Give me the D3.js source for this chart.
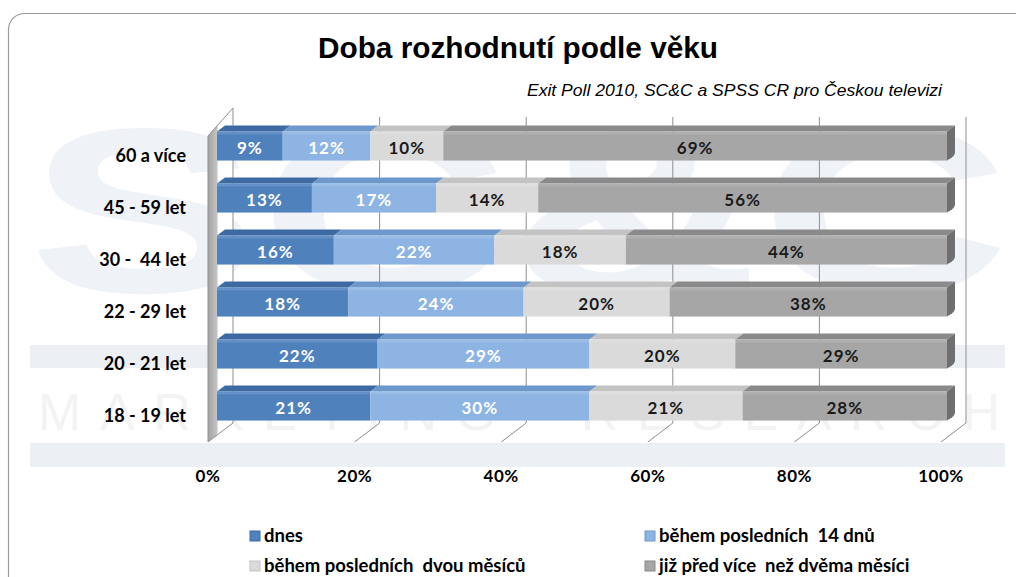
<!DOCTYPE html>
<html>
<head>
<meta charset="utf-8">
<script src="https://cdn.jsdelivr.net/npm/d3@7"></script>
<style>
  body { margin: 0; background: #fff; }
  svg { display: block; }
  text { font-family: Lato, "Open Sans", sans-serif; white-space: pre; }
</style>
</head>
<body>
<div id="chart"></div>
<script>
var W = 1016, H = 577;

// data (shares of voters per age group)
var categories = ['60 a více', '45 - 59 let', '30 -  44 let', '22 - 29 let', '20 - 21 let', '18 - 19 let'];
var seriesNames = ['dnes', 'během posledních  14 dnů', 'během posledních  dvou měsíců', 'již před více  než dvěma měsíci'];
var dnes     = [9, 13, 16, 18, 22, 21];
var days14   = [12, 17, 22, 24, 29, 30];
var months2  = [10, 14, 18, 20, 20, 21];
var earlier  = [69, 56, 44, 38, 29, 28];
var tickValues = [0, 20, 40, 60, 80, 100];

var front   = ['#4f81bd', '#8db4e3', '#dadada', '#a6a6a6'];
var topCol  = ['#3d6aa2', '#6e97cc', '#c3c3c3', '#8a8a8a'];
var txtCol  = ['#fff', '#fff', '#1a1a1a', '#1a1a1a'];

var rows = categories.map(function (c, i) {
  return { cat: c, vals: [dnes[i], days14[i], months2[i], earlier[i]] };
});

var svg = d3.select('#chart').append('svg').attr('width', W).attr('height', H);

// frame
svg.append('rect').attr('x', 8.5).attr('y', 13.5).attr('width', 1060).attr('height', 620)
  .attr('rx', 16).attr('fill', '#fff').attr('stroke', '#9a9a9a').attr('stroke-width', 1.2);

// faint logo watermark behind the plot
var wm = svg.append('g');
wm.append('text').attr('x', 28).attr('y', 292).attr('font-size', 235).attr('font-weight', 'bold')
  .attr('textLength', 982).attr('lengthAdjust', 'spacingAndGlyphs')
  .attr('fill', '#eff2f6').style('font-family', 'Liberation Sans, Arial, sans-serif').text('SC&C');
wm.append('rect').attr('x', 30).attr('y', 345).attr('width', 975).attr('height', 23).attr('fill', '#ecf0f4');
wm.append('rect').attr('x', 30).attr('y', 443).attr('width', 975).attr('height', 24).attr('fill', '#ecf0f4');
wm.append('text').attr('x', 38).attr('y', 430).attr('font-size', 52)
  .attr('textLength', 962).attr('lengthAdjust', 'spacing')
  .attr('fill', '#f3f3f3').style('font-family', 'Liberation Sans, Arial, sans-serif').text('MARKETING  RESEARCH');

// title
svg.append('text').attr('x', 518).attr('y', 58).attr('text-anchor', 'middle')
  .attr('font-size', 30).attr('font-weight', 'bold').attr('fill', '#000')
  .attr('textLength', 400).attr('lengthAdjust', 'spacingAndGlyphs')
  .style('font-family', 'Liberation Sans, Arial, sans-serif')
  .text('Doba rozhodnutí podle věku');
svg.append('text').attr('x', 942).attr('y', 96).attr('text-anchor', 'end')
  .attr('font-size', 17).attr('font-style', 'italic').attr('fill', '#000')
  .attr('textLength', 415).attr('lengthAdjust', 'spacingAndGlyphs')
  .style('font-family', 'Liberation Sans, Arial, sans-serif')
  .text('Exit Poll 2010, SC&C a SPSS CR pro Českou televizi');

// 3d layout: back wall, floor front edge, bar front face
var xBack  = d3.scaleLinear().domain([0, 100]).range([233, 966]);
var xFloor = d3.scaleLinear().domain([0, 100]).range([208, 941]);
var xBar   = d3.scaleLinear().domain([0, 100]).range([217, 947]);
var backTop = 117, backBot = 423, floorY = 442;
var dx = 8, dy = -6;

var y = d3.scaleBand().domain(categories).range([120, 432]).paddingInner(0.44).paddingOuter(0.22);

// back wall gridlines + floor lines
var grid = svg.append('g').attr('stroke', '#8f8f8f').attr('stroke-width', 1);
tickValues.slice(1).forEach(function (t) {
  grid.append('line').attr('x1', xBack(t)).attr('x2', xBack(t)).attr('y1', backTop).attr('y2', backBot);
  grid.append('line').attr('x1', xBack(t)).attr('x2', xFloor(t)).attr('y1', backBot).attr('y2', floorY);
});

// left wall
var grad = svg.append('defs').append('linearGradient').attr('id', 'wall')
  .attr('x1', 0).attr('x2', 1).attr('y1', 0).attr('y2', 0);
grad.append('stop').attr('offset', 0).attr('stop-color', '#a3a3a3');
grad.append('stop').attr('offset', 0.35).attr('stop-color', '#c4c4c4');
grad.append('stop').attr('offset', 0.42).attr('stop-color', '#ffffff');
grad.append('stop').attr('offset', 1).attr('stop-color', '#ffffff');
svg.append('path')
  .attr('d', 'M' + xFloor(0) + ',' + floorY + 'L' + xFloor(0) + ',' + (backTop + 19) +
             'L' + xBack(0) + ',' + (backTop - 9) + 'L' + xBack(0) + ',' + backBot + 'Z')
  .attr('fill', 'url(#wall)').attr('stroke', '#8f8f8f').attr('stroke-width', 1);

// bars
var barG = svg.selectAll('g.row').data(rows).enter().append('g').attr('class', 'row');

barG.each(function (d) {
  var g = d3.select(this);
  var y0 = y(d.cat), h = y.bandwidth();
  var acc = 0;
  var segs = d.vals.map(function (v, k) {
    var s = { k: k, v: v, a: acc, b: acc + v };
    acc += v;
    return s;
  });
  segs.forEach(function (s) {
    var x0 = xBar(s.a), x1 = xBar(s.b);
    g.append('path')
      .attr('d', 'M' + x0 + ',' + y0 + 'L' + (x0 + dx) + ',' + (y0 + dy) + 'L' + (x1 + dx) + ',' + (y0 + dy) + 'L' + x1 + ',' + y0 + 'Z')
      .attr('fill', topCol[s.k]);
    g.append('rect').attr('x', x0).attr('y', y0).attr('width', x1 - x0).attr('height', h)
      .attr('fill', front[s.k]);
    g.append('rect').attr('x', x0).attr('y', y0).attr('width', x1 - x0).attr('height', 3)
      .attr('fill', '#fff').attr('opacity', 0.12);
  });
  var xe = xBar(100);
  g.append('path')
    .attr('d', 'M' + xe + ',' + y0 + 'L' + (xe + dx) + ',' + (y0 + dy) + 'L' + (xe + dx) + ',' + (y0 + h + dy - 2) +
               'Q' + (xe + dx) + ',' + (y0 + h + dy + 1) + ' ' + (xe + dx - 3) + ',' + (y0 + h + dy + 3) +
               'L' + xe + ',' + (y0 + h) + 'Z')
    .attr('fill', '#6f6f6f');
  g.selectAll('text.val').data(segs).enter().append('text').attr('class', 'val')
    .attr('x', function (s) { return (xBar(s.a) + xBar(s.b)) / 2; })
    .attr('y', y0 + h / 2 + 8)
    .attr('text-anchor', 'middle').attr('font-size', 17).attr('font-weight', 'bold')
    .attr('letter-spacing', 1)
    .attr('fill', function (s) { return txtCol[s.k]; })
    .text(function (s) { return s.v + '%'; });
});

// category labels
svg.selectAll('text.cat').data(categories).enter().append('text').attr('class', 'cat')
  .attr('x', 186).attr('y', function (c) { return y(c) + y.bandwidth() / 2 + 16; })
  .attr('text-anchor', 'end').attr('font-size', 18).attr('font-weight', 'bold').attr('fill', '#000')
  .text(function (c) { return c; });

// x axis labels
svg.selectAll('text.tick').data(tickValues).enter().append('text').attr('class', 'tick')
  .attr('x', function (t) { return xFloor(t); }).attr('y', 482)
  .attr('text-anchor', 'middle').attr('font-size', 17).attr('font-weight', 'bold').attr('fill', '#000')
  .attr('letter-spacing', 0.5)
  .text(function (t) { return t + '%'; });

// legend
var legPos = [[250, 536], [645, 536], [250, 566], [645, 566]];
var leg = svg.selectAll('g.leg').data(seriesNames).enter().append('g').attr('class', 'leg')
  .attr('transform', function (d, i) { return 'translate(' + legPos[i][0] + ',' + legPos[i][1] + ')'; });
leg.append('rect').attr('x', 0).attr('y', -5).attr('width', 10).attr('height', 10)
  .attr('fill', function (d, i) { return front[i]; })
  .attr('stroke', function (d, i) { return topCol[i]; }).attr('stroke-width', 1);
leg.append('text').attr('x', 14).attr('y', 6).attr('font-size', 18.5).attr('font-weight', 'bold').attr('fill', '#000')
  .text(function (d) { return d; });
</script>
</body>
</html>
